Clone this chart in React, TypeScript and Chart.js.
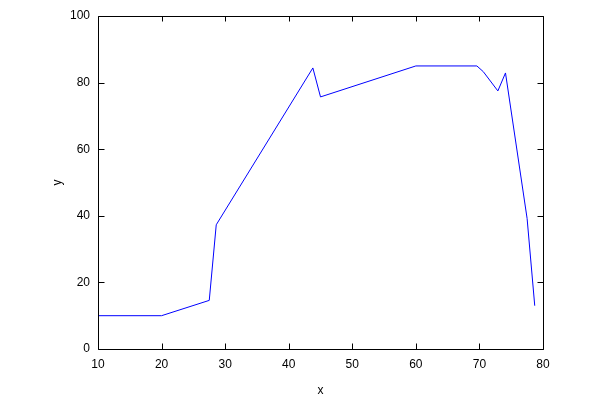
import React, { useEffect, useRef } from "react";
import { Chart, registerables } from "chart.js";

Chart.register(...registerables);

const xValues = [10, 20, 27.5, 28.6, 43.8, 45.0, 60, 69.6, 70.6, 72.9, 74.1, 77.5, 78.7];
const yValues = [10, 10, 14.6, 37.3, 84.4, 75.7, 85, 85, 83.3, 77.5, 82.9, 39.2, 13.0];
const xTicks = [10, 20, 30, 40, 50, 60, 70, 80];
const yTicks = [0, 20, 40, 60, 80, 100];

const FONT = "'Liberation Sans', Arial, sans-serif";

const boxPlugin = {
  id: "gnuBox",
  afterDraw(chart: any) {
    const { ctx, chartArea: a, scales } = chart;
    ctx.save();
    ctx.strokeStyle = "#000";
    ctx.lineWidth = 1;
    ctx.beginPath();
    const L = Math.round(a.left) + 0.5;
    const R = Math.round(a.right) + 0.5;
    const T = Math.round(a.top) + 0.5;
    const B = Math.round(a.bottom) + 0.5;
    ctx.rect(L, T, R - L, B - T);
    const tl = 6;
    const tlTop = 5;
    for (const v of xTicks) {
      const px = Math.round(scales.x.getPixelForValue(v)) + 0.5;
      ctx.moveTo(px, B);
      ctx.lineTo(px, B - tl);
      ctx.moveTo(px, T);
      ctx.lineTo(px, T + tlTop);
    }
    for (const v of yTicks) {
      const py = Math.round(scales.y.getPixelForValue(v)) + 0.5;
      ctx.moveTo(L, py);
      ctx.lineTo(L + tl, py);
      ctx.moveTo(R, py);
      ctx.lineTo(R - tl, py);
    }
    ctx.stroke();
    ctx.restore();
  },
};

export default function App() {
  const ref = useRef<HTMLCanvasElement>(null);
  useEffect(() => {
    document.body.style.margin = "0";
    const chart = new Chart(ref.current!, {
      type: "line",
      data: {
        datasets: [
          {
            data: xValues.map((x, i) => ({ x, y: yValues[i] })),
            borderColor: "#0000ff",
            borderWidth: 1,
            pointRadius: 0,
            fill: false,
            tension: 0,
          },
        ],
      },
      options: {
        responsive: false,
        animation: false,
        layout: { padding: { top: 16, right: 57, left: 0, bottom: 0 } },
        plugins: { legend: { display: false }, tooltip: { enabled: false } },
        scales: {
          x: {
            type: "linear",
            min: 10,
            max: 80,
            afterBuildTicks: (s: any) => {
              s.ticks = xTicks.map((v) => ({ value: v }));
            },
            afterFit: (s: any) => {
              s.height = 51;
            },
            grid: { display: false, drawTicks: false },
            border: { display: false },
            ticks: { color: "#000", padding: 8, font: { family: FONT, size: 12 } },
            title: { display: true, text: "x", color: "#000", padding: { top: 0, bottom: 2 }, font: { family: FONT, size: 12 } },
          },
          y: {
            type: "linear",
            min: 0,
            max: 100,
            afterBuildTicks: (s: any) => {
              s.ticks = yTicks.map((v) => ({ value: v }));
            },
            afterFit: (s: any) => {
              s.width = 98;
            },
            grid: { display: false, drawTicks: false },
            border: { display: false },
            ticks: { color: "#000", padding: 8, font: { family: FONT, size: 12 } },
            title: { display: true, text: "y", color: "#000", padding: { top: 50, bottom: 0 }, font: { family: FONT, size: 12 } },
          },
        },
      },
      plugins: [boxPlugin],
    });
    return () => chart.destroy();
  }, []);
  return (
    <div style={{ position: "fixed", left: 0, top: 0, width: 600, height: 400, background: "#fff" }}>
      <canvas ref={ref} width={600} height={400} style={{ width: 600, height: 400 }} />
    </div>
  );
}
